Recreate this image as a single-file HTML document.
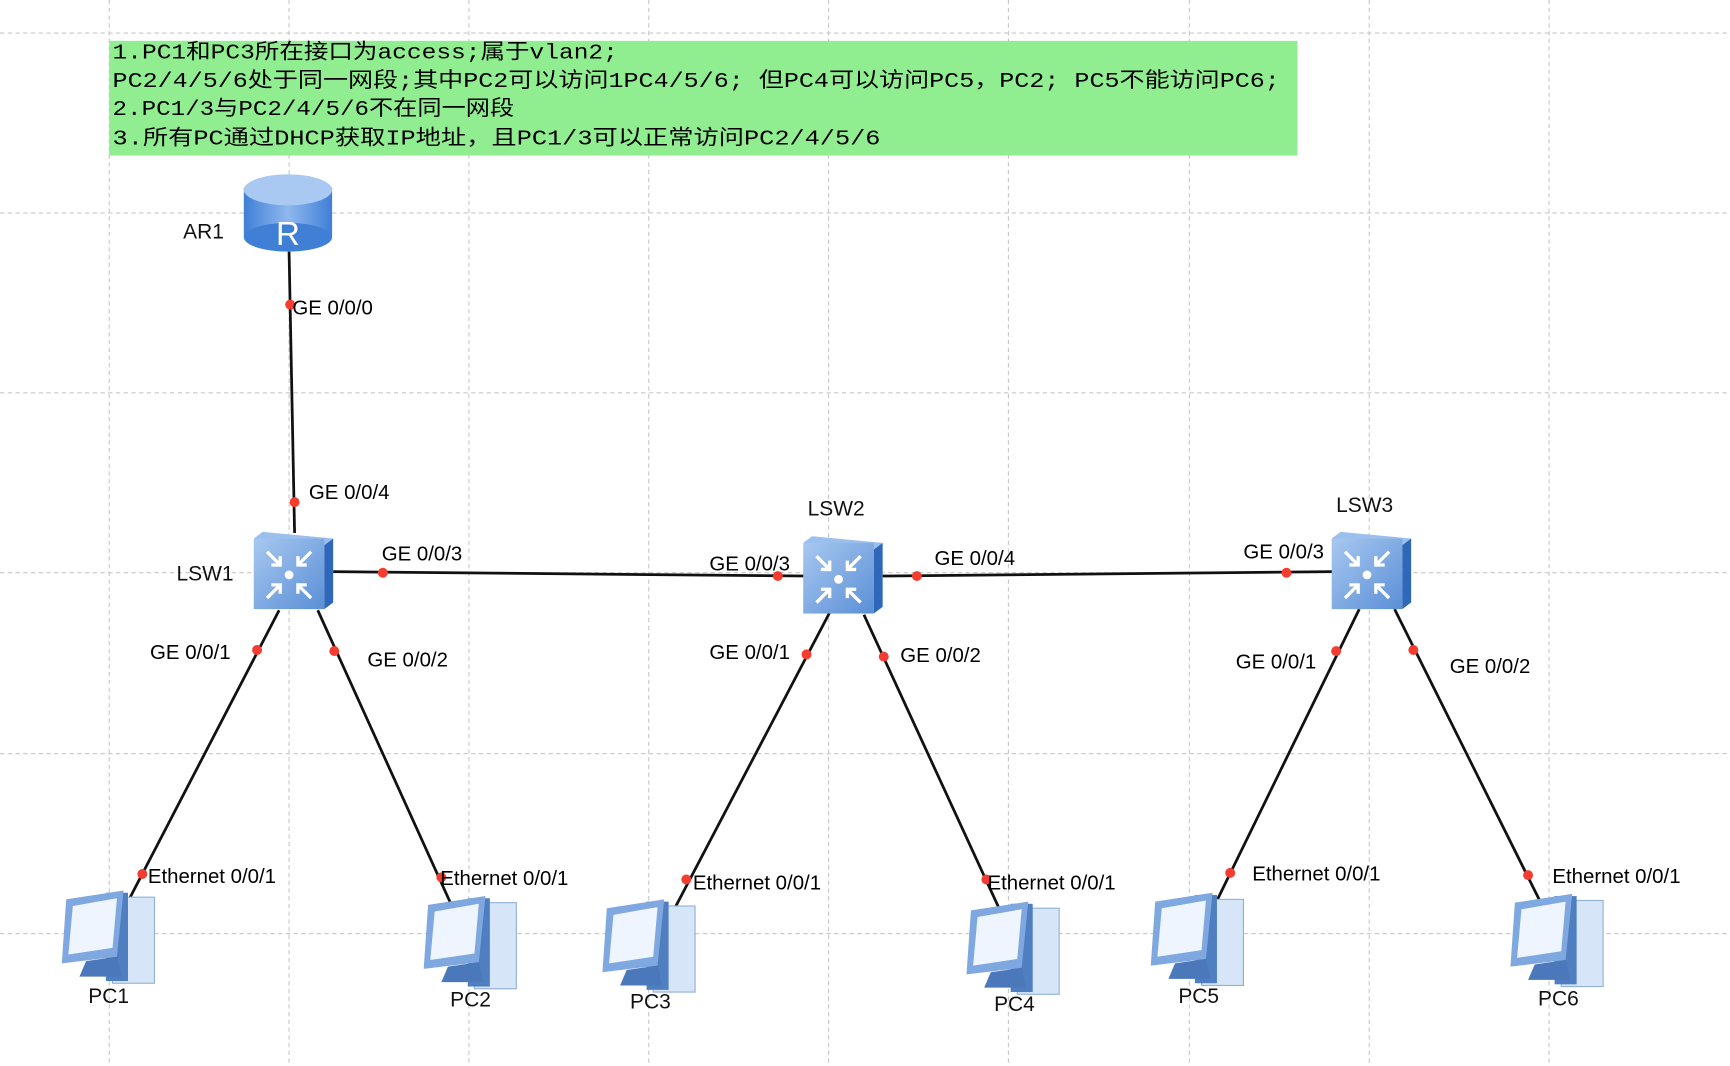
<!DOCTYPE html>
<html><head><meta charset="utf-8"><style>
html,body{margin:0;padding:0;background:#fff;}
svg{display:block;}
.t{font-family:"Liberation Sans",sans-serif;font-size:18.5px;fill:#000;}
.n{font-family:"Liberation Sans",sans-serif;font-size:19px;fill:#111;}
.c{font-family:"Liberation Mono","Noto Sans CJK SC",monospace;font-size:19px;fill:#000;}
</style></head><body>
<svg width="1730" height="1066" viewBox="0 0 1568 966" preserveAspectRatio="none">
<defs>
<linearGradient id="sw" x1="0" y1="0" x2="1" y2="1"><stop offset="0" stop-color="#a8c8f0"/><stop offset="1" stop-color="#5a8fd6"/></linearGradient>
<linearGradient id="rt" x1="0" y1="0" x2="1" y2="0"><stop offset="0" stop-color="#3f7fd6"/><stop offset="0.5" stop-color="#8fb8ee"/><stop offset="1" stop-color="#3f7fd6"/></linearGradient>
<g id="switch">
<polygon points="-36,-30 -28,-36 36,-30 28,-24" fill="#9cc0ee"/>
<rect x="-36" y="-30" width="64" height="64" fill="url(#sw)"/>
<polygon points="28,-24 36,-30 36,28 28,34" fill="#2f68b8"/>
<g stroke="#fff" stroke-width="3" fill="none">
<path d="M-24,-18 L-12,-6 M-12,-14 L-12,-6 L-20,-6"/>
<path d="M16,-18 L4,-6 M4,-14 L4,-6 L12,-6"/>
<path d="M-24,24 L-12,12 M-12,20 L-12,12 L-20,12"/>
<path d="M16,24 L4,12 M4,20 L4,12 L12,12"/>
</g>
<circle cx="-4" cy="3" r="4" fill="#fff"/>
</g>
<g id="pc">
<rect x="2" y="-32" width="38" height="78" fill="#d6e6f8" stroke="#8fb0d8"/>
<rect x="-4" y="-36" width="20" height="80" fill="#4f7fc0"/>
<polygon points="-40,-30 12,-38 6,22 -44,28" fill="#7fa8e0"/>
<polygon points="-34,-24 6,-31 2,14 -38,20" fill="#eef5ff"/>
<polygon points="-22,26 6,22 10,40 -28,40" fill="#4a78bb"/>
</g>
</defs>
<g stroke="#c8c8c8" stroke-width="1" stroke-dasharray="4,3">
<line x1="99" y1="0" x2="99" y2="966"/><line x1="262" y1="0" x2="262" y2="966"/><line x1="425" y1="0" x2="425" y2="966"/><line x1="588" y1="0" x2="588" y2="966"/><line x1="751" y1="0" x2="751" y2="966"/><line x1="914" y1="0" x2="914" y2="966"/><line x1="1078" y1="0" x2="1078" y2="966"/><line x1="1241" y1="0" x2="1241" y2="966"/><line x1="1404" y1="0" x2="1404" y2="966"/>
<line x1="0" y1="30" x2="1568" y2="30"/><line x1="0" y1="193" x2="1568" y2="193"/><line x1="0" y1="356" x2="1568" y2="356"/><line x1="0" y1="519" x2="1568" y2="519"/><line x1="0" y1="683" x2="1568" y2="683"/><line x1="0" y1="846" x2="1568" y2="846"/>
</g>
<rect x="99" y="37" width="1077" height="104" fill="#90ee90"/>
<text class="c" x="102" y="53" textLength="458" lengthAdjust="spacingAndGlyphs">1.PC1和PC3所在接口为access;属于vlan2;</text>
<text class="c" x="102" y="79" textLength="1058" lengthAdjust="spacingAndGlyphs">PC2/4/5/6处于同一网段;其中PC2可以访问1PC4/5/6; 但PC4可以访问PC5，PC2; PC5不能访问PC6;</text>
<text class="c" x="102" y="104" textLength="364" lengthAdjust="spacingAndGlyphs">2.PC1/3与PC2/4/5/6不在同一网段</text>
<text class="c" x="102" y="131" textLength="696" lengthAdjust="spacingAndGlyphs">3.所有PC通过DHCP获取IP地址，且PC1/3可以正常访问PC2/4/5/6</text>
<g stroke="#111" stroke-width="2.5">
<line x1="262" y1="228" x2="267" y2="483"/>
<line x1="302" y1="518" x2="730" y2="522"/>
<line x1="800" y1="522" x2="1208" y2="518"/>
<line x1="253" y1="553" x2="117" y2="815"/>
<line x1="288" y1="553" x2="410" y2="822"/>
<line x1="752" y1="555" x2="610" y2="826"/>
<line x1="783" y1="557" x2="905" y2="822"/>
<line x1="1232" y1="552" x2="1103" y2="816"/>
<line x1="1264" y1="552" x2="1395" y2="815"/>
</g>
<g>
<rect x="221" y="170" width="80" height="45" fill="url(#rt)"/>
<ellipse cx="261" cy="215" rx="40" ry="13" fill="#3f7fd6"/>
<ellipse cx="261" cy="172" rx="40" ry="14" fill="#a9c8f2"/>
<text x="261" y="222" font-family="Liberation Sans,sans-serif" font-size="30" fill="#fff" text-anchor="middle">R</text>
</g>
<use href="#switch" x="266" y="518"/>
<use href="#switch" x="764" y="522"/>
<use href="#switch" x="1243" y="518"/>
<use href="#pc" x="100" y="845"/>
<use href="#pc" x="428" y="850"/>
<use href="#pc" x="590" y="853"/>
<use href="#pc" x="920" y="855"/>
<use href="#pc" x="1087" y="847"/>
<use href="#pc" x="1413" y="848"/>
<g fill="#f43c30">
<circle cx="263" cy="276" r="4.5"/><circle cx="267" cy="455" r="4.5"/>
<circle cx="347" cy="519" r="4.5"/><circle cx="705" cy="522" r="4.5"/>
<circle cx="831" cy="522" r="4.5"/><circle cx="1166" cy="519" r="4.5"/>
<circle cx="233" cy="589" r="4.5"/><circle cx="129" cy="792" r="4.5"/>
<circle cx="303" cy="590" r="4.5"/><circle cx="400" cy="795" r="4.5"/>
<circle cx="731" cy="593" r="4.5"/><circle cx="622" cy="797" r="4.5"/>
<circle cx="801" cy="595" r="4.5"/><circle cx="894" cy="797" r="4.5"/>
<circle cx="1211" cy="590" r="4.5"/><circle cx="1115" cy="791" r="4.5"/>
<circle cx="1281" cy="589" r="4.5"/><circle cx="1385" cy="793" r="4.5"/>
</g>
<g class="t">
<text x="265" y="285">GE 0/0/0</text>
<text x="280" y="452">GE 0/0/4</text>
<text x="346" y="508">GE 0/0/3</text>
<text x="643" y="517">GE 0/0/3</text>
<text x="847" y="512">GE 0/0/4</text>
<text x="1127" y="506">GE 0/0/3</text>
<text x="136" y="597">GE 0/0/1</text>
<text x="333" y="604">GE 0/0/2</text>
<text x="643" y="597">GE 0/0/1</text>
<text x="816" y="600">GE 0/0/2</text>
<text x="1120" y="606">GE 0/0/1</text>
<text x="1314" y="610">GE 0/0/2</text>
<text x="134" y="800">Ethernet 0/0/1</text>
<text x="399" y="802">Ethernet 0/0/1</text>
<text x="628" y="806">Ethernet 0/0/1</text>
<text x="895" y="806">Ethernet 0/0/1</text>
<text x="1135" y="798">Ethernet 0/0/1</text>
<text x="1407" y="800">Ethernet 0/0/1</text>
</g>
<g class="n">
<text x="166" y="216">AR1</text>
<text x="160" y="526">LSW1</text>
<text x="732" y="467">LSW2</text>
<text x="1211" y="464">LSW3</text>
<text x="80" y="909">PC1</text>
<text x="408" y="912">PC2</text>
<text x="571" y="914">PC3</text>
<text x="901" y="916">PC4</text>
<text x="1068" y="909">PC5</text>
<text x="1394" y="911">PC6</text>
</g>
</svg>
</body></html>
